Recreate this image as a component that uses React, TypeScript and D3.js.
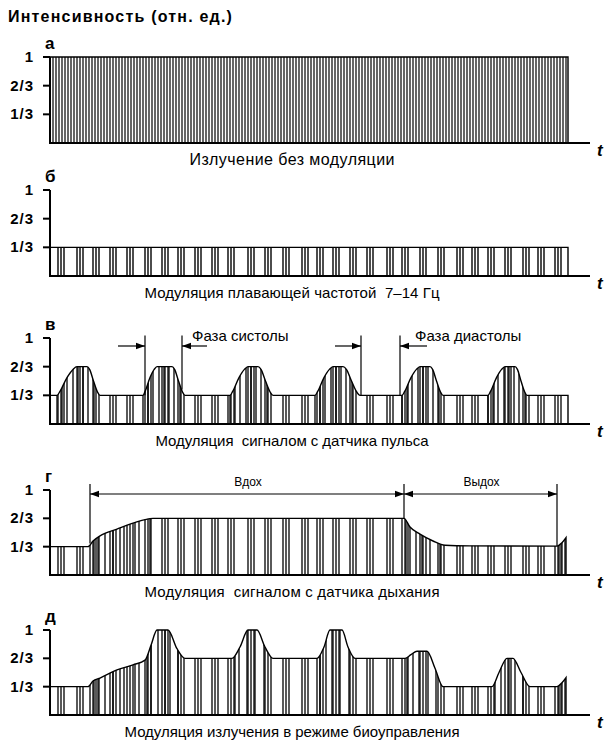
import * as d3 from 'd3';
import React, {useEffect, useRef} from 'react';

// texts
const title = 'Интенсивность (отн. ед.)';
const panelLabels = ['а', 'б', 'в', 'г', 'д'];
const captions = [
  'Излучение без модуляции',
  'Модуляция плавающей частотой  7–14 Гц',
  'Модуляция  сигналом с датчика пульса',
  'Модуляция  сигналом с датчика дыхания',
  'Модуляция излучения в режиме биоуправления',
];
const captionWidths = [205, 295, 273, 295, 335];
const captionSizes = [16, 15, 15, 15, 15];
const tickValues = [1 / 3, 2 / 3, 1];
const tickLabels = ['1/3', '2/3', '1'];

// time runs 0..540 (arbitrary units), pulses stop at 518
const tEnd = 518;

// unmodulated carrier: pulse every 3 units
const carrierStepA = 3;

// floating frequency carrier: groups of pulses
const groupStarts = [8, 27, 43, 60, 77, 95, 112, 128, 145, 162, 178, 198, 215, 233, 252,
  267, 283, 300, 317, 337, 352, 370, 388, 407, 422, 438, 455, 473, 488, 505];
const groupOffsets = [0, 3, 6];

// pulse sensor bumps: [rise start, top start, top end, fall end]
const pulseBumps = [
  [7, 27, 37, 50],
  [93, 107, 122, 135],
  [180, 198, 208, 223],
  [265, 283, 293, 310],
  [352, 370, 380, 393],
  [438, 455, 465, 477],
];
const bumpPulseOffsets = [0, 5, 10, 16, 21, 26, 31, 37];

// breathing envelope [t, value]
const envBreath = [
  [0, 1 / 3], [38, 1 / 3], [43, 0.40], [50, 0.46], [67, 0.54], [83, 0.61], [103, 2 / 3],
  [354, 2 / 3], [360, 0.565], [370, 0.48], [383, 0.40], [395, 0.35], [420, 0.343],
  [507, 0.34], [512, 0.38], [516, 0.44],
];
const densePulsesBreath = [40, 44, 48, 55, 63, 70, 74, 85, 89, 100,
  356, 360, 366, 372, 380, 390, 509, 512, 515];

// biofeedback envelope [t, value]
const envBio = [
  [0, 1 / 3], [38, 1 / 3], [43, 0.40], [50, 0.435], [67, 0.53], [83, 0.59], [95, 0.645],
  [101, 0.82], [107, 1], [118, 1], [127, 0.78], [135, 2 / 3],
  [182, 2 / 3], [190, 0.8], [198, 1], [207, 1], [215, 0.8], [223, 2 / 3],
  [267, 2 / 3], [274, 0.8], [280, 1], [292, 1], [298, 0.8], [305, 2 / 3],
  [355, 2 / 3], [361, 0.71], [367, 0.75], [377, 0.75], [385, 0.55], [393, 1 / 3],
  [442, 1 / 3], [449, 0.5], [457, 2 / 3], [463, 2 / 3], [471, 0.5], [480, 1 / 3],
  [507, 1 / 3], [512, 0.38], [516, 0.44],
];
const densePulsesBio = [40, 44, 48, 55, 63, 70, 74, 85, 89,
  97, 101, 108, 115, 120, 128,
  185, 189, 197, 205, 214,
  270, 276, 282, 290, 299,
  357, 363, 369, 378, 386,
  445, 451, 459, 465, 473,
  509, 512, 515];

// annotations
const phaseLabels = ['Фаза систолы', 'Фаза диастолы'];
const phaseBounds = [[95, 132], [311, 350]];
const phaseBoundValues = [[1 / 3, 0.4], [1 / 3, 1 / 3]];
const phaseArrowEnds = [[68, 157], [285, 377]];
const phaseTextT = [142, 365];

const breathLabels = ['Вдох', 'Выдох'];
const breathMarks = [40, 354, 507];
const breathMarkValues = [0.37, 2 / 3, 0.34];

// layout
const panelTops = [57, 190, 338, 490, 630];
const panelBases = [143, 276, 424, 575, 715];
const font = '"Liberation Sans", Arial, Helvetica, sans-serif';

const App = () => {
  const svgRef = useRef<SVGSVGElement>(null);

  useEffect(() => {
    const svg = d3.select(svgRef.current);
    svg.selectAll('*').remove();

    const x = d3.scaleLinear().domain([0, 540]).range([50, 590]);

    svg.append('text')
      .attr('x', 8).attr('y', 22)
      .attr('font-family', font).attr('font-weight', 'bold')
      .attr('font-size', 16).attr('letter-spacing', 1.2)
      .text(title);

    const carrier = groupStarts.flatMap(s => groupOffsets.map(o => s + o)).filter(t => t <= tEnd);

    // bell-shaped hump with a short rounded top
    const bumpEnv: number[][] = [[0, 1 / 3]];
    pulseBumps.forEach(([s, ps, pe, e]) => {
      const r = ps - s;
      const f = e - pe;
      bumpEnv.push(
        [s, 1 / 3], [s + 0.15 * r, 0.38], [s + 0.5 * r, 0.54], [s + 0.8 * r, 0.635], [ps, 2 / 3],
        [pe, 2 / 3], [pe + 0.2 * f, 0.635], [pe + 0.5 * f, 0.5], [pe + 0.8 * f, 0.375], [e, 1 / 3],
      );
    });
    bumpEnv.push([tEnd, 1 / 3]);
    const bumpPulses = pulseBumps.flatMap(b => bumpPulseOffsets.map(o => b[0] + o));

    const panels = [
      {env: [[0, 1], [tEnd, 1]], pulses: d3.range(0, tEnd + 1, carrierStepA), w: 1.2},
      {env: [[0, 1 / 3], [tEnd, 1 / 3]], pulses: carrier, w: 1.4},
      {env: bumpEnv, pulses: carrier.concat(bumpPulses), w: 1.3},
      {env: envBreath, pulses: carrier.filter(t => t < 516).concat(densePulsesBreath), w: 1.3},
      {env: envBio, pulses: carrier.filter(t => t < 516).concat(densePulsesBio), w: 1.3},
    ];

    panels.forEach((p, i) => {
      const top = panelTops[i];
      const base = panelBases[i];
      const y = d3.scaleLinear().domain([0, 1]).range([base, top]);
      const g = svg.append('g');

      const area = d3.area<number[]>()
        .x(d => x(d[0])).y0(base).y1(d => y(d[1]))
        .curve(d3.curveMonotoneX);
      const line = d3.line<number[]>()
        .x(d => x(d[0])).y(d => y(d[1]))
        .curve(d3.curveMonotoneX);

      const clipId = 'env-clip-' + i;
      svg.append('clipPath').attr('id', clipId)
        .append('path').attr('d', area(p.env));

      g.append('g').attr('clip-path', `url(#${clipId})`)
        .selectAll('line').data(p.pulses).join('line')
        .attr('x1', d => x(d)).attr('x2', d => x(d))
        .attr('y1', base).attr('y2', y(1.1))
        .attr('stroke', '#000').attr('stroke-width', p.w);

      const last = p.env[p.env.length - 1];
      g.append('path')
        .attr('d', line(p.env) + `L${x(last[0])},${base}`)
        .attr('fill', 'none').attr('stroke', '#000').attr('stroke-width', 1.4);

      // axes
      g.append('line')
        .attr('x1', x(0)).attr('x2', x(0)).attr('y1', base + 1).attr('y2', y(1))
        .attr('stroke', '#000').attr('stroke-width', 2);
      g.append('line')
        .attr('x1', x(0) - 1).attr('x2', x(540)).attr('y1', base).attr('y2', base)
        .attr('stroke', '#000').attr('stroke-width', 2.2);
      g.selectAll('.tick').data(tickValues).join('line')
        .attr('x1', x(0) - 7).attr('x2', x(0)).attr('y1', d => y(d)).attr('y2', d => y(d))
        .attr('stroke', '#000').attr('stroke-width', 2);
      g.selectAll('.ticklabel').data(tickValues).join('text')
        .attr('x', 34).attr('y', d => y(d) + 5)
        .attr('text-anchor', 'end')
        .attr('font-family', font).attr('font-weight', 'bold').attr('font-size', 15)
        .attr('letter-spacing', 1)
        .text((d, j) => tickLabels[j]);

      g.append('text')
        .attr('x', 45).attr('y', top - 8)
        .attr('font-family', font).attr('font-weight', 'bold').attr('font-size', 17)
        .text(panelLabels[i]);

      g.append('text')
        .attr('x', 597).attr('y', base + 13)
        .attr('font-family', font).attr('font-weight', 'bold').attr('font-style', 'italic')
        .attr('font-size', 17)
        .text('t');

      g.append('text')
        .attr('x', x(242)).attr('y', base + 22)
        .attr('text-anchor', 'middle')
        .attr('font-family', font).attr('font-size', captionSizes[i])
        .attr('textLength', captionWidths[i]).attr('lengthAdjust', 'spacing')
        .style('white-space', 'pre')
        .text(captions[i]);

      const arrowHead = (tipX: number, yy: number, dir: number) => {
        g.append('path')
          .attr('d', `M${tipX},${yy}L${tipX - dir * 9},${yy - 3.2}L${tipX - dir * 9},${yy + 3.2}Z`)
          .attr('fill', '#000');
      };

      if (i === 2) {
        phaseLabels.forEach((lab, k) => {
          const [a, b] = phaseBounds[k];
          const [va, vb] = phaseBoundValues[k];
          const ay = y(0.907);
          g.append('line').attr('x1', x(a)).attr('x2', x(a)).attr('y1', y(1.03)).attr('y2', y(va))
            .attr('stroke', '#000').attr('stroke-width', 1.2);
          g.append('line').attr('x1', x(b)).attr('x2', x(b)).attr('y1', y(1.03)).attr('y2', y(vb))
            .attr('stroke', '#000').attr('stroke-width', 1.2);
          g.append('line').attr('x1', x(phaseArrowEnds[k][0])).attr('x2', x(a)).attr('y1', ay).attr('y2', ay)
            .attr('stroke', '#000').attr('stroke-width', 1.2);
          g.append('line').attr('x1', x(b)).attr('x2', x(phaseArrowEnds[k][1])).attr('y1', ay).attr('y2', ay)
            .attr('stroke', '#000').attr('stroke-width', 1.2);
          arrowHead(x(a), ay, 1);
          arrowHead(x(b), ay, -1);
          g.append('text')
            .attr('x', x(phaseTextT[k])).attr('y', y(0.965))
            .attr('font-family', font).attr('font-size', 15)
            .text(lab);
        });
      }

      if (i === 3) {
        const ay = y(0.953);
        breathMarks.forEach((t, k) => {
          g.append('line').attr('x1', x(t)).attr('x2', x(t)).attr('y1', y(1.07)).attr('y2', y(breathMarkValues[k]))
            .attr('stroke', '#000').attr('stroke-width', 1.2);
        });
        breathLabels.forEach((lab, k) => {
          const a = breathMarks[k];
          const b = breathMarks[k + 1];
          g.append('line').attr('x1', x(a)).attr('x2', x(b)).attr('y1', ay).attr('y2', ay)
            .attr('stroke', '#000').attr('stroke-width', 1.2);
          arrowHead(x(a), ay, -1);
          arrowHead(x(b), ay, 1);
          g.append('text')
            .attr('x', x((a + b) / 2) + 1).attr('y', y(1.047))
            .attr('text-anchor', 'middle')
            .attr('font-family', font).attr('font-size', 12)
            .text(lab);
        });
      }
    });
  }, []);

  return (
    <svg ref={svgRef} width={606} height={741}
      style={{position: 'absolute', left: 0, top: 0, background: '#fff'}} />
  );
};

export default App;
